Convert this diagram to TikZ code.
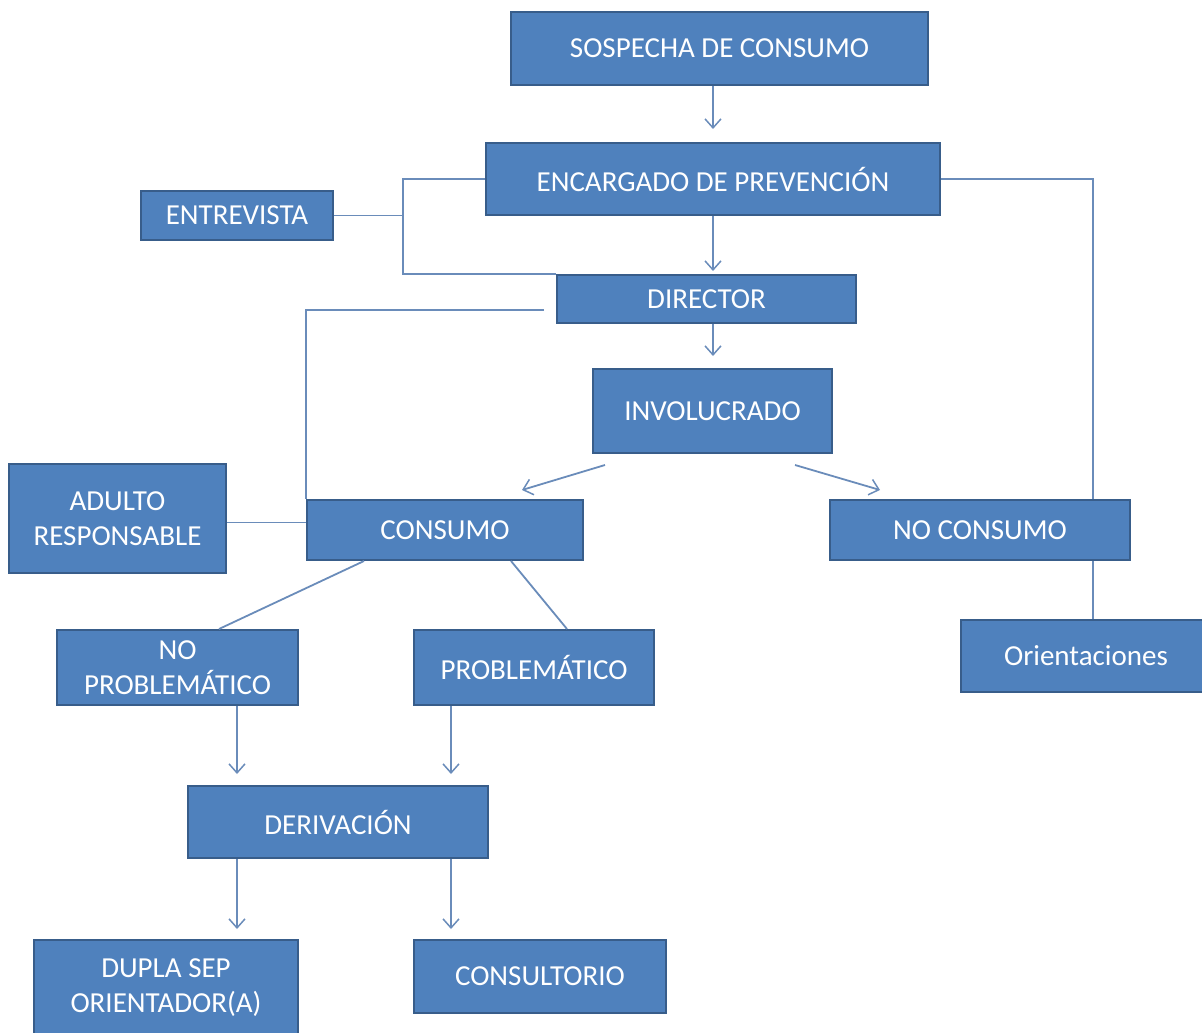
\documentclass[tikz,border=0pt]{standalone}
\usepackage{fontspec}
\setmainfont{Carlito}
\usetikzlibrary{calc,arrows.meta}
\definecolor{boxfill}{HTML}{4F81BD}
\definecolor{boxline}{HTML}{385D8A}
\definecolor{conn}{HTML}{6A8CBA}

\begin{document}
\begin{tikzpicture}[x=1pt,y=-1pt,
                    box/.style={draw=boxline,fill=boxfill,line width=2pt,text=white,
                                align=center,inner sep=0pt,font=\fontsize{29}{35}\selectfont},
                    conline/.style={draw=conn,line width=1.8pt},
                    arr/.style={conline,-{Straight Barb[length=9pt,width=16pt,line width=1.5pt]}}]
            \useasboundingbox (0,0) rectangle (1202,1033);
            \node[box,minimum width=417pt,minimum height=73pt] (sosp) at (719.5,48.5) {SOSPECHA DE CONSUMO};
            \node[box,minimum width=454pt,minimum height=72pt] (enc) at (713,179) {ENCARGADO DE PREVENCIÓN};
            \node[box,minimum width=192pt,minimum height=49pt] (entr) at (237,215.5) {ENTREVISTA};
            \node[box,minimum width=299pt,minimum height=48pt] (dir) at (706.5,299) {DIRECTOR};
            \node[box,minimum width=239pt,minimum height=84pt] (inv) at (712.5,411) {INVOLUCRADO};
            \node[box,minimum width=217pt,minimum height=109pt] (adulto) at (117.5,518.5) {ADULTO\\RESPONSABLE};
            \node[box,minimum width=276pt,minimum height=60pt] (cons) at (445,530) {CONSUMO};
            \node[box,minimum width=300pt,minimum height=60pt] (nocons) at (980,530) {NO CONSUMO};
            \node[box,minimum width=241pt,minimum height=75pt] (noprob) at (177.5,667.5) {NO\\PROBLEMÁTICO};
            \node[box,minimum width=240pt,minimum height=75pt] (prob) at (534,667.5) {PROBLEMÁTICO};
            \node[box,minimum width=264pt,minimum height=72pt] (orient) at (1093,656) {\hspace*{-14pt}Orientaciones};
            \node[box,minimum width=300pt,minimum height=72pt] (deriv) at (338,822) {DERIVACIÓN};
            \node[box,minimum width=264pt,minimum height=96pt] (dupla) at (166,988) {DUPLA SEP\\ORIENTADOR(A)};
            \node[box,minimum width=252pt,minimum height=73pt] (consult) at (540,976.5) {CONSULTORIO};
            % free ends and bends
            \coordinate (brk) at (403,179);
            \coordinate (invL) at (605,465);
            \coordinate (invLe) at (522,490);
            \coordinate (invR) at (795,465);
            \coordinate (invRe) at (880,490);
            \coordinate (dl) at (237,0);
            \coordinate (dr) at (451,0);
            % arrows down the middle
            \draw[arr,shorten >=13pt] (sosp.south -| enc.south) -- (enc.north);
            \draw[arr,shorten >=3pt] (enc.south) -- (enc.south |- dir.north);
            \draw[arr,shorten >=12pt] (dir.south -| enc.south) -- (inv.north -| enc.south);
            \draw[arr] (invL) -- (invLe);
            \draw[arr] (invR) -- (invRe);
            % side links
            \draw[conline] (enc.west) -- (brk) |- (dir.north west);
            \draw[conline] (entr.east) -- (entr.east -| brk);
            \draw[conline] ($(dir.west)+(-12,11)$) -| (cons.north west);
            \draw[conline] ($(adulto.east)+(0,4)$) -- ($(adulto.east -| cons.west)+(0,4)$);
            \draw[conline] (enc.east) -| (nocons.north -| orient.north);
            \draw[conline] (nocons.south -| orient.north) -- (orient.north);
            \draw[conline] ($(cons.south west)+(58,0)$) -- ($(noprob.north west)+(163,0)$);
            \draw[conline] ($(cons.south west)+(205,0)$) -- ($(prob.north west)+(154,0)$);
            % derivation
            \draw[arr,shorten >=11pt] (noprob.south -| dl) -- (deriv.north -| dl);
            \draw[arr,shorten >=11pt] (prob.south -| dr) -- (deriv.north -| dr);
            \draw[arr,shorten >=10pt] (deriv.south -| dl) -- (dupla.north -| dl);
            \draw[arr,shorten >=10pt] (deriv.south -| dr) -- (consult.north -| dr);
        \end{tikzpicture}
\end{document}
